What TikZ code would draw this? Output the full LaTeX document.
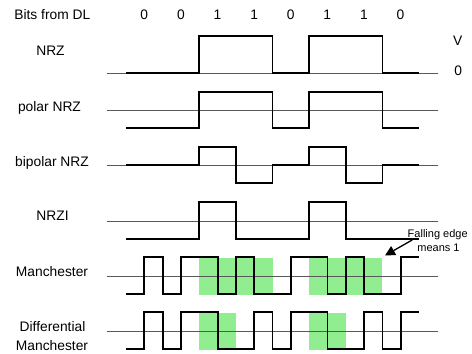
\documentclass[tikz,border=0pt]{standalone}
\usepackage{fontspec}
\setmainfont{Liberation Sans}
\usetikzlibrary{arrows.meta}
\begin{document}
\begin{tikzpicture}[x=1pt,y=-1pt,
  lbl/.style={anchor=base,inner sep=0pt,font=\fontsize{13.8}{16}\selectfont},
  note/.style={anchor=base,inner sep=1pt,font=\fontsize{11}{13}\selectfont},
  refline/.style={draw=black!65,line width=0.8pt},
  sig/.style={draw=black,line width=1.8pt,line join=miter},
  pointer/.style={line width=1.3pt,-{Triangle[length=10pt,width=10pt]}}]
\useasboundingbox (0,0) rectangle (472,354);
\definecolor{lgreen}{RGB}{144,238,144}
% bits
\node[lbl] (title) at (52.3,19.3) {Bits from DL};
\foreach \b [count=\i from 0] in {0,0,1,1,0,1,1,0}{
  \node[lbl] (bit\i) at ({144.3+36.6*\i},19.3) {\b};
}
\node[lbl] (vlab) at (457.7,45.7) {V};
\node[lbl] (zlab) at (458.3,75.3) {0};
% labels
\node[lbl] (nrz) at (50.5,55) {NRZ};
\node[lbl] (pnrz) at (49.5,111.7) {polar NRZ};
\node[lbl] (bnrz) at (52,166.7) {bipolar NRZ};
\node[lbl] (nrzi) at (52.5,220.7) {NRZI};
\node[lbl] (man) at (52,276) {Manchester};
\node[lbl] (dman1) at (52.5,331.7) {Differential};
\node[lbl] (dman2) at (52,350) {Manchester};
% highlights
\fill[lgreen] (199.3,257.5) rectangle (272.5,295);
\fill[lgreen] (309.1,257.5) rectangle (382.4,295);
\fill[lgreen] (199.3,312.5) rectangle (235.9,350);
\fill[lgreen] (309.1,312.5) rectangle (345.8,350);
% reference lines
\foreach \yy in {73,110,165,221,276,331}{
  \draw[refline] (107,\yy) -- (438,\yy);
}
% NRZ
\draw[sig] (126,73) -| (199.3,36) -| (272.5,73) -| (309.1,36) -| (382.4,73) -- (419,73);
% polar NRZ
\draw[sig] (126,128) -| (199.3,92) -| (272.5,128) -| (309.1,92) -| (382.4,128) -- (419,128);
% bipolar NRZ
\draw[sig] (126,165) -| (199.3,147) -| (235.9,183) -| (272.5,165) -| (309.1,147) -| (345.8,183) -| (382.4,165) -- (419,165);
% NRZI
\draw[sig] (126,239) -| (199.3,202) -| (235.9,239) -| (309.1,202) -| (345.8,239) -- (419,239);
% Manchester
\draw[sig] (126,294) -| (144.3,257) -| (162.6,294) -| (180.9,257) -| (217.6,294) -| (235.9,257) -| (254.2,294) -| (290.8,257) -| (327.4,294) -| (345.8,257) -| (364.1,294) -| (400.7,257) -- (419,257);
% Differential Manchester
\draw[sig] (126,349) -| (144.3,312) -| (162.6,349) -| (180.9,312) -| (217.6,349) -| (254.2,312) -| (272.5,349) -| (290.8,312) -| (327.4,349) -| (364.1,312) -| (382.4,349) -| (400.7,312) -- (419,312);
% annotation
\node[note] (fe1) at (437.7,237.3) {Falling edge};
\node[note] (fe2) at (438.5,251.7) {means 1};
\coordinate (tip) at (385,255.5);
\draw[pointer] ([xshift=-4pt,yshift=8pt]fe2.west) -- (tip);
\end{tikzpicture}
\end{document}
